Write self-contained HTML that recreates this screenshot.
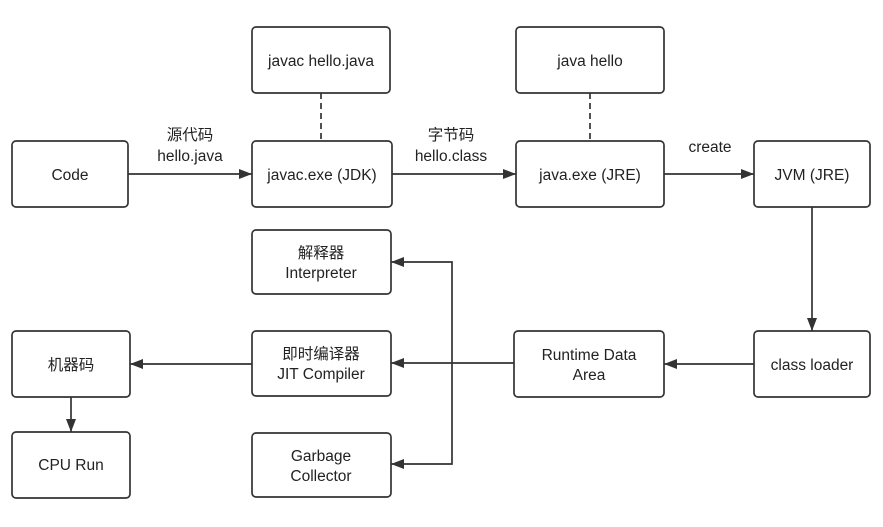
<!DOCTYPE html>
<html><head><meta charset="utf-8"><style>
html,body{margin:0;padding:0;background:#fff;}
svg text{font-family:"Liberation Sans","Noto Sans CJK SC",sans-serif;font-size:15.5px;fill:#222;text-anchor:middle;}
</style></head><body>
<svg width="883" height="522" viewBox="0 0 883 522" xmlns="http://www.w3.org/2000/svg">
<defs><marker id="a" markerWidth="14" markerHeight="10" refX="13" refY="5" orient="auto" markerUnits="userSpaceOnUse"><path d="M0,0 L13,5 L0,10 Z" fill="#333"/></marker></defs>
<g fill="#fff" stroke="#333" stroke-width="1.7">
<rect x="12" y="141" width="116" height="66" rx="4"/>
<rect x="252" y="27" width="138" height="66" rx="4"/>
<rect x="252" y="141" width="140" height="66" rx="4"/>
<rect x="516" y="27" width="148" height="66" rx="4"/>
<rect x="516" y="141" width="148" height="66" rx="4"/>
<rect x="754" y="141" width="116" height="66" rx="4"/>
<rect x="252" y="230" width="139" height="64" rx="4"/>
<rect x="252" y="331" width="139" height="65" rx="4"/>
<rect x="252" y="433" width="139" height="64" rx="4"/>
<rect x="12" y="331" width="118" height="66" rx="4"/>
<rect x="12" y="432" width="118" height="66" rx="4"/>
<rect x="514" y="331" width="150" height="66" rx="4"/>
<rect x="754" y="331" width="116" height="66" rx="4"/>
</g>
<g stroke="#333" stroke-width="1.7" fill="none">
<path d="M321 93 V141 M590 93 V141" stroke-dasharray="6,4"/>
<path d="M128 174 H252" marker-end="url(#a)"/>
<path d="M392 174 H516" marker-end="url(#a)"/>
<path d="M664 174 H754" marker-end="url(#a)"/>
<path d="M812 207 V331" marker-end="url(#a)"/>
<path d="M754 364 H664" marker-end="url(#a)"/>
<path d="M514 363 H391" marker-end="url(#a)"/>
<path d="M452 363 V262 H391" marker-end="url(#a)"/>
<path d="M452 363 V464 H391" marker-end="url(#a)"/>
<path d="M252 364 H130" marker-end="url(#a)"/>
<path d="M71 397 V432" marker-end="url(#a)"/>
</g>
<text x="70" y="180">Code</text>
<text x="321" y="66">javac hello.java</text>
<text x="322" y="180">javac.exe (JDK)</text>
<text x="590" y="66">java hello</text>
<text x="590" y="180">java.exe (JRE)</text>
<text x="812" y="180">JVM (JRE)</text>
<text x="321" y="258">解释器</text><text x="321" y="278">Interpreter</text>
<text x="321" y="359">即时编译器</text><text x="321" y="379">JIT Compiler</text>
<text x="321" y="461">Garbage</text><text x="321" y="481">Collector</text>
<text x="71" y="370">机器码</text>
<text x="71" y="470">CPU Run</text>
<text x="589" y="360">Runtime Data</text><text x="589" y="380">Area</text>
<text x="812" y="370">class loader</text>
<text x="190" y="140">源代码</text><text x="190" y="161">hello.java</text>
<text x="451" y="140">字节码</text><text x="451" y="161">hello.class</text>
<text x="710" y="152">create</text>
</svg>
</body></html>
